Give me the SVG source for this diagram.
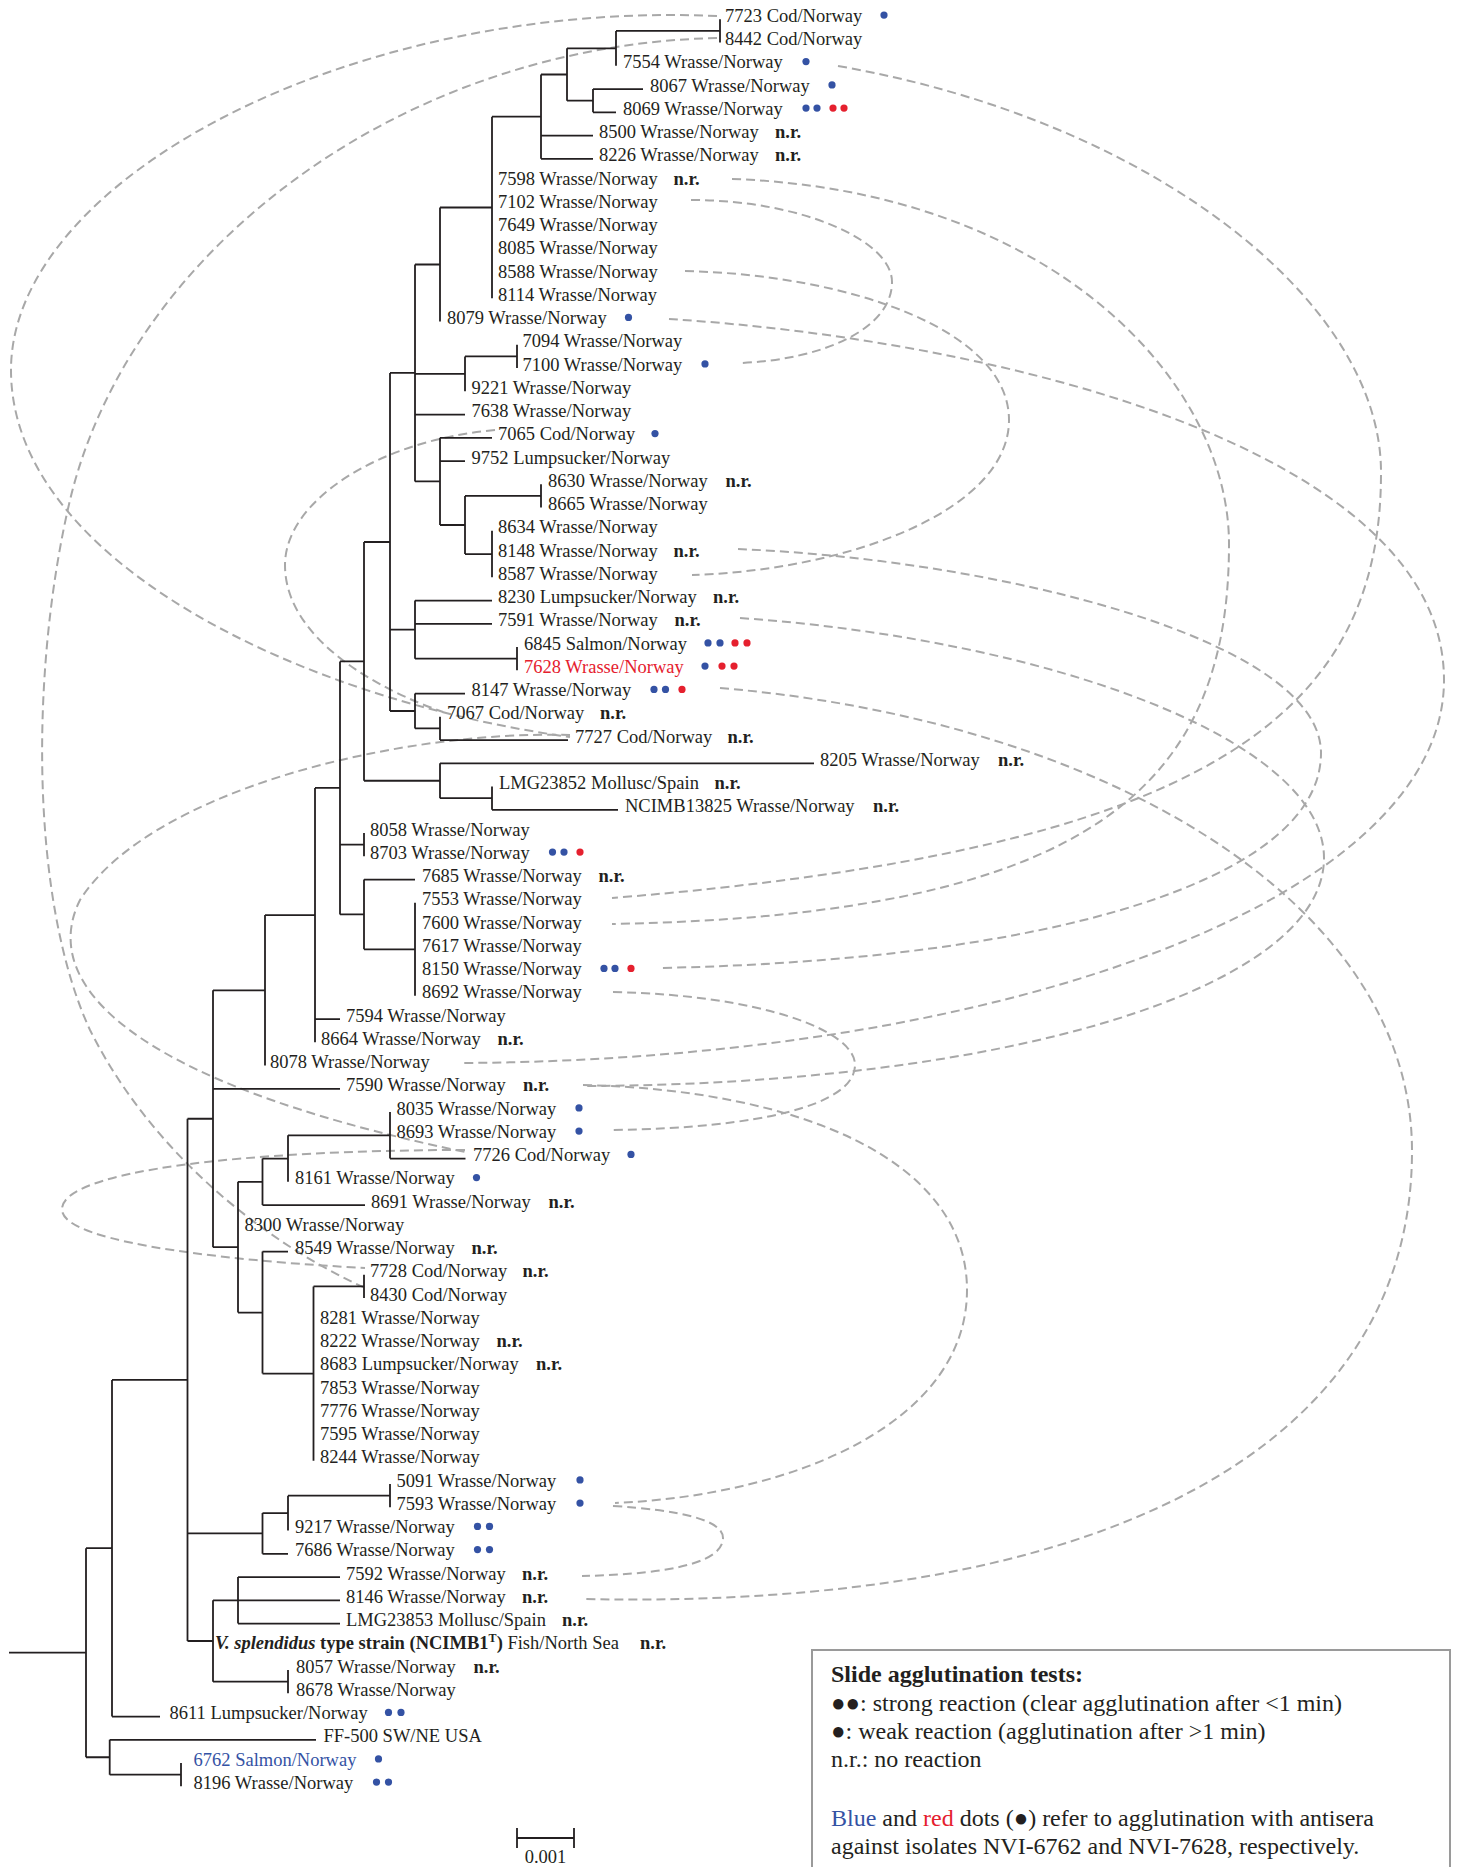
<svg xmlns="http://www.w3.org/2000/svg" width="1457" height="1867" viewBox="0 0 1457 1867">
<style>
.t{font-family:"Liberation Serif","Times New Roman",serif;font-size:18.5px;fill:#231f20}
.nr{font-weight:bold}
.lg{font-family:"Liberation Serif","Times New Roman",serif;font-size:24px;fill:#231f20}
.bd{fill:#3452a4}
.rd{fill:#e5202e}
.br{stroke:#231f20;stroke-width:1.8;fill:none}
.lk{stroke:#a8a8a8;stroke-width:2;fill:none;stroke-dasharray:9 5}
</style>
<rect width="1457" height="1867" fill="#ffffff"/>
<g id="links" class="lk">
<path d="M717,16 C350,0 11,180 11,370 C11,560 300,700 570,737"/>
<path d="M717,38 C400,45 130,250 70,500 C30,670 30,900 90,1030 C150,1150 260,1240 365,1288"/>
<path d="M495,430 C380,440 285,500 285,565 C285,640 380,690 443,712"/>
<path d="M570,735 C400,730 150,790 80,900 C40,980 120,1080 465,1152"/>
<path d="M465,1150 C250,1150 60,1170 62,1210 C64,1245 250,1262 365,1268"/>
<path d="M838,66 C1150,120 1380,300 1381,471 C1382,720 1200,850 612,898"/>
<path d="M669,319 C1000,340 1444,450 1444,680 C1444,900 1000,1060 462,1063"/>
<path d="M732,179 C1050,190 1229,380 1229,544 C1229,780 1100,915 612,924"/>
<path d="M738,549 C1000,560 1321,640 1321,753 C1321,880 1050,960 660,968"/>
<path d="M740,618 C1050,640 1324,740 1324,858 C1324,990 1000,1085 583,1086"/>
<path d="M720,688 C1100,720 1412,900 1412,1151 C1412,1450 1100,1610 583,1599"/>
<path d="M583,1085 C800,1090 967,1160 967,1290 C967,1420 800,1495 615,1503"/>
<path d="M613,992 C760,995 855,1030 855,1065 C855,1105 760,1128 613,1130"/>
<path d="M613,1506 C680,1510 723,1520 723,1538 C723,1560 680,1574 582,1576"/>
<path d="M685,271 C850,275 1009,330 1009,420 C1009,510 850,570 692,575"/>
<path d="M691,200 C800,200 892,240 892,282 C892,330 820,360 740,363"/>
</g>
<g id="branches" class="br">
<path d="M720,19.3V42.55 M616,30.9V65.8 M616,30.9H720 M593,89.05V112.3 M593,89.05H643 M593,112.3H616 M567,48.35V100.7 M567,48.35H616 M567,100.7H593 M541,74.5V158.8 M541,74.5H567 M541,135.55H593 M541,158.8H593 M492,116.65V298.3 M492,116.65H541 M440,207.5V321.55 M440,207.5H492"/>
<path d="M517,344.8V368.05 M465,356.4V391.3 M465,356.4H517 M541,484.3V507.55 M492,530.8V577.3 M465,495.9V554.05 M465,495.9H541 M465,554.05H492 M440,437.8V525 M440,437.8H492 M440,461.05H465 M440,525H465 M415,264.5V481.4 M415,264.5H440 M415,373.85H465 M415,414.55H465 M415,481.4H440"/>
<path d="M517,647.05V670.3 M415,600.55V658.7 M415,600.55H492 M415,623.8H492 M415,658.7H517 M440,716.8V740.05 M440,740.05H568 M415,693.55V728.4 M415,693.55H465 M415,728.4H440 M390,372.95V711 M390,372.95H415 M390,629.6H415 M390,711H415"/>
<path d="M492,786.55V809.8 M492,809.8H618 M440,763.3V798.2 M440,763.3H814 M440,798.2H492 M364,542V780.75 M364,542H390 M364,780.75H440"/>
<path d="M364,833.05V856.3 M415,902.8V995.8 M364,879.55V949.3 M364,879.55H415 M364,949.3H415 M340,661.4V914.4 M340,661.4H364 M340,844.7H364 M340,914.4H364 M315,787.9V1042.3 M315,787.9H340 M315,1019.05H340 M265,915.1V1065.55 M265,915.1H315"/>
<path d="M390,1112.05V1158.55 M390,1158.55H465.5 M288,1135.3V1181.8 M288,1135.3H390 M262.5,1158.55V1205.05 M262.5,1158.55H288 M262.5,1205.05H365 M364,1274.8V1298.05 M313.5,1286.4V1460.8 M313.5,1286.4H364 M262.5,1251.55V1373.6 M262.5,1251.55H288 M262.5,1373.6H313.5 M238,1181.8V1312.6 M238,1181.8H262.5 M238,1312.6H262.5 M213,990.3V1247.2 M213,990.3H265 M213,1088.8H340 M213,1247.2H238"/>
<path d="M390,1484.05V1507.3 M288,1495.7V1530.55 M288,1495.7H390 M262.5,1513.1V1553.8 M262.5,1513.1H288 M262.5,1553.8H288 M238,1577.05V1623.55 M238,1577.05H340 M238,1600.3H340 M238,1623.55H340 M288,1670.05V1693.3 M213,1600.3V1681.7 M213,1600.3H238 M213,1681.7H288 M187.5,1118.75V1641 M187.5,1118.75H213 M187.5,1533.45H262.5 M187.5,1641H213"/>
<path d="M112,1379.9V1716.55 M112,1379.9H187.5 M112,1716.55H160 M181,1763.05V1786.3 M109.7,1739.8V1774.7 M109.7,1739.8H316 M109.7,1774.7H181 M86,1548.2V1757.25 M86,1548.2H112 M86,1757.25H109.7 M9,1652.7H86"/>
</g>
<g id="tips" transform="translate(0,-1.5)">
<g id="n7723"><text class="t" x="725" y="23.3">7723 Cod/Norway</text><circle class="bd" cx="884" cy="16.6" r="3.6"/></g>
<g id="n8442"><text class="t" x="725" y="46.6">8442 Cod/Norway</text></g>
<g id="n7554"><text class="t" x="623" y="69.8">7554 Wrasse/Norway</text><circle class="bd" cx="806" cy="63.1" r="3.6"/></g>
<g id="n8067"><text class="t" x="650" y="93.1">8067 Wrasse/Norway</text><circle class="bd" cx="832" cy="86.4" r="3.6"/></g>
<g id="n8069"><text class="t" x="623" y="116.3">8069 Wrasse/Norway</text><circle class="bd" cx="806" cy="109.6" r="3.6"/><circle class="bd" cx="817" cy="109.6" r="3.6"/><circle class="rd" cx="833" cy="109.6" r="3.6"/><circle class="rd" cx="844" cy="109.6" r="3.6"/></g>
<g id="n8500"><text class="t" x="599" y="139.6">8500 Wrasse/Norway</text><text class="t nr" x="775" y="139.6">n.r.</text></g>
<g id="n8226"><text class="t" x="599" y="162.8">8226 Wrasse/Norway</text><text class="t nr" x="775" y="162.8">n.r.</text></g>
<g id="n7598"><text class="t" x="498" y="186.1">7598 Wrasse/Norway</text><text class="t nr" x="673.5" y="186.1">n.r.</text></g>
<g id="n7102"><text class="t" x="498" y="209.3">7102 Wrasse/Norway</text></g>
<g id="n7649"><text class="t" x="498" y="232.6">7649 Wrasse/Norway</text></g>
<g id="n8085"><text class="t" x="498" y="255.8">8085 Wrasse/Norway</text></g>
<g id="n8588"><text class="t" x="498" y="279.1">8588 Wrasse/Norway</text></g>
<g id="n8114"><text class="t" x="498" y="302.3">8114 Wrasse/Norway</text></g>
<g id="n8079"><text class="t" x="447" y="325.6">8079 Wrasse/Norway</text><circle class="bd" cx="628.5" cy="318.9" r="3.6"/></g>
<g id="n7094"><text class="t" x="522.5" y="348.8">7094 Wrasse/Norway</text></g>
<g id="n7100"><text class="t" x="522.5" y="372.1">7100 Wrasse/Norway</text><circle class="bd" cx="705" cy="365.4" r="3.6"/></g>
<g id="n9221"><text class="t" x="471.5" y="395.3">9221 Wrasse/Norway</text></g>
<g id="n7638"><text class="t" x="471.5" y="418.6">7638 Wrasse/Norway</text></g>
<g id="n7065"><text class="t" x="498" y="441.8">7065 Cod/Norway</text><circle class="bd" cx="655" cy="435.1" r="3.6"/></g>
<g id="n9752"><text class="t" x="471.5" y="465.1">9752 Lumpsucker/Norway</text></g>
<g id="n8630"><text class="t" x="548" y="488.3">8630 Wrasse/Norway</text><text class="t nr" x="725.5" y="488.3">n.r.</text></g>
<g id="n8665"><text class="t" x="548" y="511.6">8665 Wrasse/Norway</text></g>
<g id="n8634"><text class="t" x="498" y="534.8">8634 Wrasse/Norway</text></g>
<g id="n8148"><text class="t" x="498" y="558.1">8148 Wrasse/Norway</text><text class="t nr" x="673.5" y="558.1">n.r.</text></g>
<g id="n8587"><text class="t" x="498" y="581.3">8587 Wrasse/Norway</text></g>
<g id="n8230"><text class="t" x="498" y="604.6">8230 Lumpsucker/Norway</text><text class="t nr" x="713" y="604.6">n.r.</text></g>
<g id="n7591"><text class="t" x="498" y="627.8">7591 Wrasse/Norway</text><text class="t nr" x="674.5" y="627.8">n.r.</text></g>
<g id="n6845"><text class="t" x="524" y="651.1">6845 Salmon/Norway</text><circle class="bd" cx="708" cy="644.4" r="3.6"/><circle class="bd" cx="720" cy="644.4" r="3.6"/><circle class="rd" cx="735" cy="644.4" r="3.6"/><circle class="rd" cx="747" cy="644.4" r="3.6"/></g>
<g id="n7628"><text class="t rd" x="524" y="674.3">7628 Wrasse/Norway</text><circle class="bd" cx="705" cy="667.6" r="3.6"/><circle class="rd" cx="722" cy="667.6" r="3.6"/><circle class="rd" cx="734" cy="667.6" r="3.6"/></g>
<g id="n8147"><text class="t" x="471.5" y="697.6">8147 Wrasse/Norway</text><circle class="bd" cx="654" cy="690.9" r="3.6"/><circle class="bd" cx="665.5" cy="690.9" r="3.6"/><circle class="rd" cx="682" cy="690.9" r="3.6"/></g>
<g id="n7067"><text class="t" x="447" y="720.8">7067 Cod/Norway</text><text class="t nr" x="600" y="720.8">n.r.</text></g>
<g id="n7727"><text class="t" x="575" y="744.1">7727 Cod/Norway</text><text class="t nr" x="727.5" y="744.1">n.r.</text></g>
<g id="n8205"><text class="t" x="820" y="767.3">8205 Wrasse/Norway</text><text class="t nr" x="998" y="767.3">n.r.</text></g>
<g id="nLMG23852"><text class="t" x="499" y="790.6">LMG23852 Mollusc/Spain</text><text class="t nr" x="714.5" y="790.6">n.r.</text></g>
<g id="nNCIMB13825"><text class="t" x="625" y="813.8">NCIMB13825 Wrasse/Norway</text><text class="t nr" x="873" y="813.8">n.r.</text></g>
<g id="n8058"><text class="t" x="370" y="837.1">8058 Wrasse/Norway</text></g>
<g id="n8703"><text class="t" x="370" y="860.3">8703 Wrasse/Norway</text><circle class="bd" cx="552.5" cy="853.6" r="3.6"/><circle class="bd" cx="564" cy="853.6" r="3.6"/><circle class="rd" cx="580" cy="853.6" r="3.6"/></g>
<g id="n7685"><text class="t" x="422" y="883.6">7685 Wrasse/Norway</text><text class="t nr" x="598.5" y="883.6">n.r.</text></g>
<g id="n7553"><text class="t" x="422" y="906.8">7553 Wrasse/Norway</text></g>
<g id="n7600"><text class="t" x="422" y="930.1">7600 Wrasse/Norway</text></g>
<g id="n7617"><text class="t" x="422" y="953.3">7617 Wrasse/Norway</text></g>
<g id="n8150"><text class="t" x="422" y="976.6">8150 Wrasse/Norway</text><circle class="bd" cx="604" cy="969.9" r="3.6"/><circle class="bd" cx="615" cy="969.9" r="3.6"/><circle class="rd" cx="631" cy="969.9" r="3.6"/></g>
<g id="n8692"><text class="t" x="422" y="999.8">8692 Wrasse/Norway</text></g>
<g id="n7594"><text class="t" x="346" y="1023.1">7594 Wrasse/Norway</text></g>
<g id="n8664"><text class="t" x="321" y="1046.3">8664 Wrasse/Norway</text><text class="t nr" x="497.5" y="1046.3">n.r.</text></g>
<g id="n8078"><text class="t" x="270" y="1069.6">8078 Wrasse/Norway</text></g>
<g id="n7590"><text class="t" x="346" y="1092.8">7590 Wrasse/Norway</text><text class="t nr" x="523" y="1092.8">n.r.</text></g>
<g id="n8035"><text class="t" x="396.5" y="1116.1">8035 Wrasse/Norway</text><circle class="bd" cx="579" cy="1109.4" r="3.6"/></g>
<g id="n8693"><text class="t" x="396.5" y="1139.3">8693 Wrasse/Norway</text><circle class="bd" cx="579" cy="1132.6" r="3.6"/></g>
<g id="n7726"><text class="t" x="473" y="1162.6">7726 Cod/Norway</text><circle class="bd" cx="631" cy="1155.9" r="3.6"/></g>
<g id="n8161"><text class="t" x="295" y="1185.8">8161 Wrasse/Norway</text><circle class="bd" cx="476.5" cy="1179.1" r="3.6"/></g>
<g id="n8691"><text class="t" x="371" y="1209.1">8691 Wrasse/Norway</text><text class="t nr" x="548.5" y="1209.1">n.r.</text></g>
<g id="n8300"><text class="t" x="244.5" y="1232.3">8300 Wrasse/Norway</text></g>
<g id="n8549"><text class="t" x="295" y="1255.6">8549 Wrasse/Norway</text><text class="t nr" x="471.5" y="1255.6">n.r.</text></g>
<g id="n7728"><text class="t" x="370" y="1278.8">7728 Cod/Norway</text><text class="t nr" x="522.5" y="1278.8">n.r.</text></g>
<g id="n8430"><text class="t" x="370" y="1302.1">8430 Cod/Norway</text></g>
<g id="n8281"><text class="t" x="320" y="1325.3">8281 Wrasse/Norway</text></g>
<g id="n8222"><text class="t" x="320" y="1348.6">8222 Wrasse/Norway</text><text class="t nr" x="496.5" y="1348.6">n.r.</text></g>
<g id="n8683"><text class="t" x="320" y="1371.8">8683 Lumpsucker/Norway</text><text class="t nr" x="536" y="1371.8">n.r.</text></g>
<g id="n7853"><text class="t" x="320" y="1395.1">7853 Wrasse/Norway</text></g>
<g id="n7776"><text class="t" x="320" y="1418.3">7776 Wrasse/Norway</text></g>
<g id="n7595"><text class="t" x="320" y="1441.6">7595 Wrasse/Norway</text></g>
<g id="n8244"><text class="t" x="320" y="1464.8">8244 Wrasse/Norway</text></g>
<g id="n5091"><text class="t" x="396.5" y="1488.1">5091 Wrasse/Norway</text><circle class="bd" cx="580" cy="1481.4" r="3.6"/></g>
<g id="n7593"><text class="t" x="396.5" y="1511.3">7593 Wrasse/Norway</text><circle class="bd" cx="580" cy="1504.6" r="3.6"/></g>
<g id="n9217"><text class="t" x="295" y="1534.6">9217 Wrasse/Norway</text><circle class="bd" cx="477.5" cy="1527.9" r="3.6"/><circle class="bd" cx="489.5" cy="1527.9" r="3.6"/></g>
<g id="n7686"><text class="t" x="295" y="1557.8">7686 Wrasse/Norway</text><circle class="bd" cx="477.5" cy="1551.1" r="3.6"/><circle class="bd" cx="489.5" cy="1551.1" r="3.6"/></g>
<g id="n7592"><text class="t" x="346" y="1581.1">7592 Wrasse/Norway</text><text class="t nr" x="522" y="1581.1">n.r.</text></g>
<g id="n8146"><text class="t" x="346" y="1604.3">8146 Wrasse/Norway</text><text class="t nr" x="522" y="1604.3">n.r.</text></g>
<g id="nLMG23853"><text class="t" x="346" y="1627.6">LMG23853 Mollusc/Spain</text><text class="t nr" x="562" y="1627.6">n.r.</text></g>
<g id="nNCIMB1"><text class="t" x="215" y="1650.8"><tspan font-weight="bold" font-style="italic">V. splendidus</tspan><tspan font-weight="bold"> type strain (NCIMB1</tspan><tspan font-weight="bold" font-size="12" dy="-7">T</tspan><tspan font-weight="bold" dy="7">)</tspan> Fish/North Sea</text><text class="t nr" x="640" y="1650.8">n.r.</text></g>
<g id="n8057"><text class="t" x="296" y="1674.1">8057 Wrasse/Norway</text><text class="t nr" x="473.5" y="1674.1">n.r.</text></g>
<g id="n8678"><text class="t" x="296" y="1697.3">8678 Wrasse/Norway</text></g>
<g id="n8611"><text class="t" x="169.5" y="1720.6">8611 Lumpsucker/Norway</text><circle class="bd" cx="388.5" cy="1713.9" r="3.6"/><circle class="bd" cx="401" cy="1713.9" r="3.6"/></g>
<g id="nFF500"><text class="t" x="323.5" y="1743.8">FF-500 SW/NE USA</text></g>
<g id="n6762"><text class="t bd" x="193.5" y="1767.1">6762 Salmon/Norway</text><circle class="bd" cx="378.5" cy="1760.4" r="3.6"/></g>
<g id="n8196"><text class="t" x="193.5" y="1790.3">8196 Wrasse/Norway</text><circle class="bd" cx="376.5" cy="1783.6" r="3.6"/><circle class="bd" cx="388.5" cy="1783.6" r="3.6"/></g>
</g>
<g id="scalebar"><path class="br" d="M517,1828V1848 M574,1828V1848 M517,1838H574"/><text class="t" x="545.5" y="1863" text-anchor="middle">0.001</text></g>
<g id="legend">
<rect x="812" y="1650" width="638" height="240" fill="none" stroke="#9a9a9a" stroke-width="2"/>
<text class="lg" x="831" y="1682" font-weight="bold">Slide agglutination tests:</text>
<text class="lg" x="831" y="1710.7">●●: strong reaction (clear agglutination after &lt;1 min)</text>
<text class="lg" x="831" y="1739">●: weak reaction (agglutination after &gt;1 min)</text>
<text class="lg" x="831" y="1767.3">n.r.: no reaction</text>
<text class="lg" x="831" y="1825.7"><tspan class="bd">Blue</tspan> and <tspan class="rd">red</tspan> dots (●) refer to agglutination with antisera</text>
<text class="lg" x="831" y="1854">against isolates NVI-6762 and NVI-7628, respectively.</text>
</g>
</svg>
